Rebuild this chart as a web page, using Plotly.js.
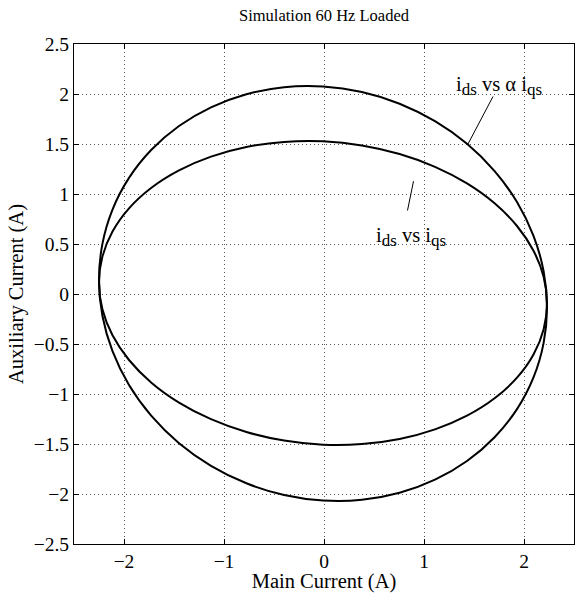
<!DOCTYPE html>
<html>
<head>
<meta charset="utf-8">
<script src="https://cdn.plot.ly/plotly-3.0.1.min.js"></script>
<style>html,body{margin:0;padding:0;background:#fff;}#chart{width:575px;height:593px;}</style>
</head>
<body>
<div id="chart"></div>
<script>
// Main current samples (shared by both loci)
const mainCurrent = [2.230, 2.196, 2.095, 1.930, 1.706, 1.430, 1.110, 0.756, 0.379, -0.010,
  -0.399, -0.776, -1.130, -1.450, -1.726, -1.950, -2.115, -2.216, -2.250, -2.216,
  -2.115, -1.950, -1.726, -1.450, -1.130, -0.776, -0.399, -0.010, 0.379, 0.756,
  1.110, 1.430, 1.706, 1.930, 2.095, 2.196, 2.230];
// Auxiliary current, i_ds vs i_qs (inner locus)
const auxInner = [-0.092, 0.173, 0.433, 0.680, 0.907, 1.106, 1.272, 1.400, 1.486, 1.527,
  1.521, 1.470, 1.374, 1.237, 1.063, 0.857, 0.625, 0.374, 0.112, -0.153,
  -0.413, -0.660, -0.887, -1.086, -1.252, -1.380, -1.466, -1.507, -1.501, -1.450,
  -1.354, -1.217, -1.043, -0.837, -0.605, -0.354, -0.092];
// Auxiliary current, i_ds vs alpha i_qs (outer locus)
const auxOuter = [-0.134, 0.228, 0.582, 0.920, 1.229, 1.502, 1.728, 1.903, 2.020, 2.075,
  2.068, 1.998, 1.867, 1.680, 1.442, 1.161, 0.844, 0.501, 0.144, -0.218,
  -0.572, -0.910, -1.219, -1.492, -1.718, -1.893, -2.010, -2.065, -2.058, -1.988,
  -1.857, -1.670, -1.432, -1.151, -0.834, -0.491, -0.134];

const xTicks = [-2, -1, 0, 1, 2];
const yTicks = [-2.5, -2, -1.5, -1, -0.5, 0, 0.5, 1, 1.5, 2, 2.5];

const SUB = s => '<sub><span style="font-size:17px">' + s + '</span></sub>';
const labels = [
  {text: 'i' + SUB('ds') + ' vs α i' + SUB('qs'), x: 1.30, y: 2.08},
  {text: 'i' + SUB('ds') + ' vs i' + SUB('qs'), x: 0.50, y: 0.57}
];
const leaderLines = [
  {x0: 1.69, y0: 1.975, x1: 1.44, y1: 1.50},
  {x0: 0.895, y0: 1.128, x1: 0.835, y1: 0.835}
];

const FONT = '"Liberation Serif", "Times New Roman", Times, serif';

const traces = [
  {x: mainCurrent, y: auxOuter, mode: 'lines', line: {color: '#000', width: 2, shape: 'spline'}, hoverinfo: 'skip'},
  {x: mainCurrent, y: auxInner, mode: 'lines', line: {color: '#000', width: 2, shape: 'spline'}, hoverinfo: 'skip'}
];

const axisCommon = {
  range: [-2.5, 2.5],
  showline: true, linecolor: '#000', linewidth: 1, mirror: 'ticks',
  ticks: 'inside', ticklen: 5, tickcolor: '#000', tickwidth: 1,
  showgrid: true, gridcolor: '#555', gridwidth: 1, griddash: '1px,3px',
  zeroline: false, tickfont: {family: FONT, size: 19.5, color: '#000'},
  automargin: false
};

const layout = {
  width: 575, height: 593,
  margin: {l: 74, r: 1, t: 44, b: 49},
  paper_bgcolor: '#fff', plot_bgcolor: '#fff',
  showlegend: false,
  font: {family: FONT, size: 20, color: '#000'},
  title: {text: 'Simulation 60 Hz Loaded', font: {family: FONT, size: 16.5, color: '#000'},
          xref: 'paper', x: 0.5, xanchor: 'center', y: 0.975, yref: 'container', yanchor: 'middle'},
  xaxis: Object.assign({}, axisCommon, {tickmode: 'array', tickvals: xTicks,
          title: {text: 'Main Current (A)', font: {family: FONT, size: 20.5, color: '#000'}, standoff: 0}}),
  yaxis: Object.assign({}, axisCommon, {tickmode: 'array', tickvals: yTicks,
          title: {text: 'Auxiliary Current (A)', font: {family: FONT, size: 20.5, color: '#000'}, standoff: 4}}),
  annotations: labels.map(l => ({text: l.text, x: l.x, y: l.y, xref: 'x', yref: 'y',
          xanchor: 'left', yanchor: 'middle', showarrow: false,
          font: {family: FONT, size: 20.5, color: '#000'}})),
  shapes: leaderLines.map(s => ({type: 'line', xref: 'x', yref: 'y',
          x0: s.x0, y0: s.y0, x1: s.x1, y1: s.y1, line: {color: '#000', width: 1}}))
};

Plotly.newPlot('chart', traces, layout, {displayModeBar: false, staticPlot: true});
</script>
</body>
</html>
